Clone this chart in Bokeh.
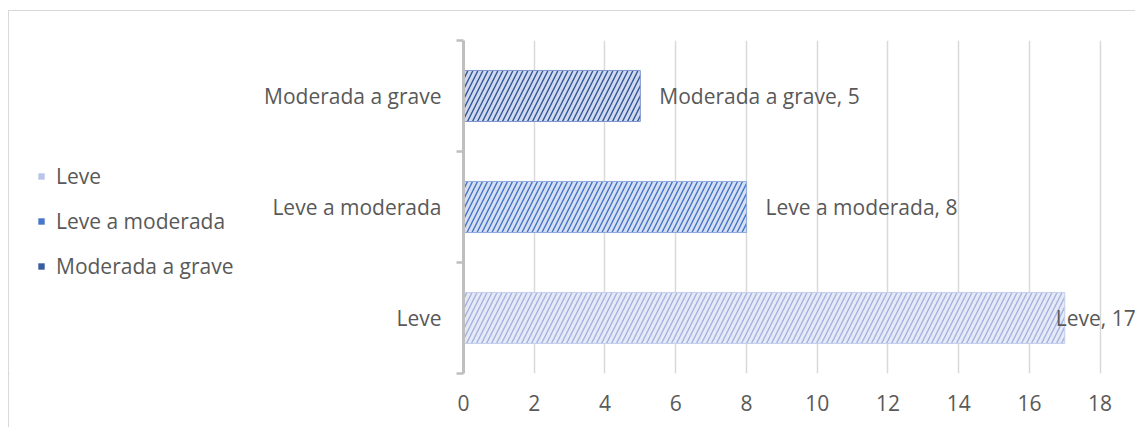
from bokeh.plotting import figure
from bokeh.layouts import row
from bokeh.models import ColumnDataSource, FixedTicker, Legend, LegendItem, Range1d
from bokeh.core.properties import value
from bokeh.embed import file_html
from bokeh.resources import INLINE

# data (bottom to top)
categories = ["Leve", "Leve a moderada", "Moderada a grave"]
counts = [17, 8, 5]
x_ticks = [0, 2, 4, 6, 8, 10, 12, 14, 16, 18]

FONT = "Open Sans"
TXT = "#595959"
FS = "21px"

fill_colors = ["#e6eaf7", "#d6e0f4", "#d0d9ef"]
hatch_colors = ["#a3b2e0", "#4472c4", "#2f5597"]
edge_colors = ["#c5cfee", "#8faadc", "#7f97cf"]
swatch_colors = ["#b9c6ea", "#4a77c9", "#3a5da0"]
# label offsets (px) from bar end
label_dx = [-9, 19, 19]


def bar_style(i):
    return dict(fill_color=fill_colors[i], line_color=edge_colors[i], line_width=1,
                hatch_pattern="/", hatch_color=hatch_colors[i], hatch_weight=1.4,
                hatch_scale=10)


H = 416

# ---- main chart ----
p = figure(width=886, height=H, output_backend="svg", toolbar_location=None,
           x_range=Range1d(0, 19), y_range=Range1d(0, 3),
           min_border_left=214, min_border_right=0, min_border_top=29,
           min_border_bottom=54)
p.outline_line_color = None

ypos = [i + 0.5 for i in range(len(categories))]

for i, (cat, v) in enumerate(zip(categories, counts)):
    src = ColumnDataSource(dict(y=[ypos[i]], right=[v], lab=[f"{cat}, {v}"]))
    p.hbar(y="y", left=0, right="right", height=0.46, source=src, **bar_style(i))
    p.text(x="right", y="y", text="lab", source=src, x_offset=label_dx[i],
           text_align="left", text_baseline="middle", text_color=TXT,
           text_font=value(FONT), text_font_size=FS)

# x axis
p.xaxis.ticker = FixedTicker(ticks=x_ticks)
p.xaxis.axis_line_color = None
p.xaxis.major_tick_line_color = None
p.xaxis.minor_tick_line_color = None
p.xaxis.major_label_text_font = FONT
p.xaxis.major_label_text_font_size = FS
p.xaxis.major_label_text_color = TXT
p.xaxis.major_label_standoff = 15

p.xgrid.ticker = FixedTicker(ticks=x_ticks)
p.xgrid.grid_line_color = "#d9d9d9"
p.xgrid.grid_line_width = 1.5
p.ygrid.grid_line_color = None

# y axis: labels at category centres, ticks at category boundaries
p.yaxis.ticker = FixedTicker(ticks=ypos, minor_ticks=[0, 1, 2, 3])
p.yaxis.major_label_overrides = {ypos[i]: c for i, c in enumerate(categories)}
p.yaxis.axis_line_color = "#bfbfbf"
p.yaxis.axis_line_width = 3
p.yaxis.major_tick_line_color = None
p.yaxis.major_tick_out = 0
p.yaxis.major_tick_in = 0
p.yaxis.minor_tick_line_color = "#bfbfbf"
p.yaxis.minor_tick_line_width = 2.5
p.yaxis.minor_tick_out = 7
p.yaxis.minor_tick_in = 0
p.yaxis.major_label_text_font = FONT
p.yaxis.major_label_text_font_size = FS
p.yaxis.major_label_text_color = TXT
p.yaxis.major_label_standoff = 15

# ---- legend panel ----
lf = figure(width=240, height=H, output_backend="svg", toolbar_location=None,
            x_range=Range1d(0, 1), y_range=Range1d(0, 1),
            min_border_left=0, min_border_right=0, min_border_top=0,
            min_border_bottom=0)
lf.axis.visible = False
lf.grid.visible = False
lf.outline_line_color = None
items = []
for i, cat in enumerate(categories):
    # legend swatch renderer, kept outside the visible range of this panel
    r = lf.hbar(y=[-10], left=[-10], right=[-9], height=0.5,
                fill_color=swatch_colors[i], line_color=None)
    items.append(LegendItem(label=cat, renderers=[r]))

legend = Legend(items=items, location=(28, 93), orientation="vertical",
                label_text_font=FONT, label_text_font_size=FS,
                label_text_color=TXT, glyph_width=8, glyph_height=8,
                label_standoff=11, spacing=17, padding=0, margin=0,
                border_line_color=None, background_fill_alpha=0)
lf.add_layout(legend, "center")

layout = row(lf, p, styles={"margin-left": "8px", "margin-top": "10px",
                            "border-top": "1px solid #d9d9d9",
                            "border-left": "1px solid #d9d9d9"})

open("out.html", "w").write(file_html(layout, INLINE))
